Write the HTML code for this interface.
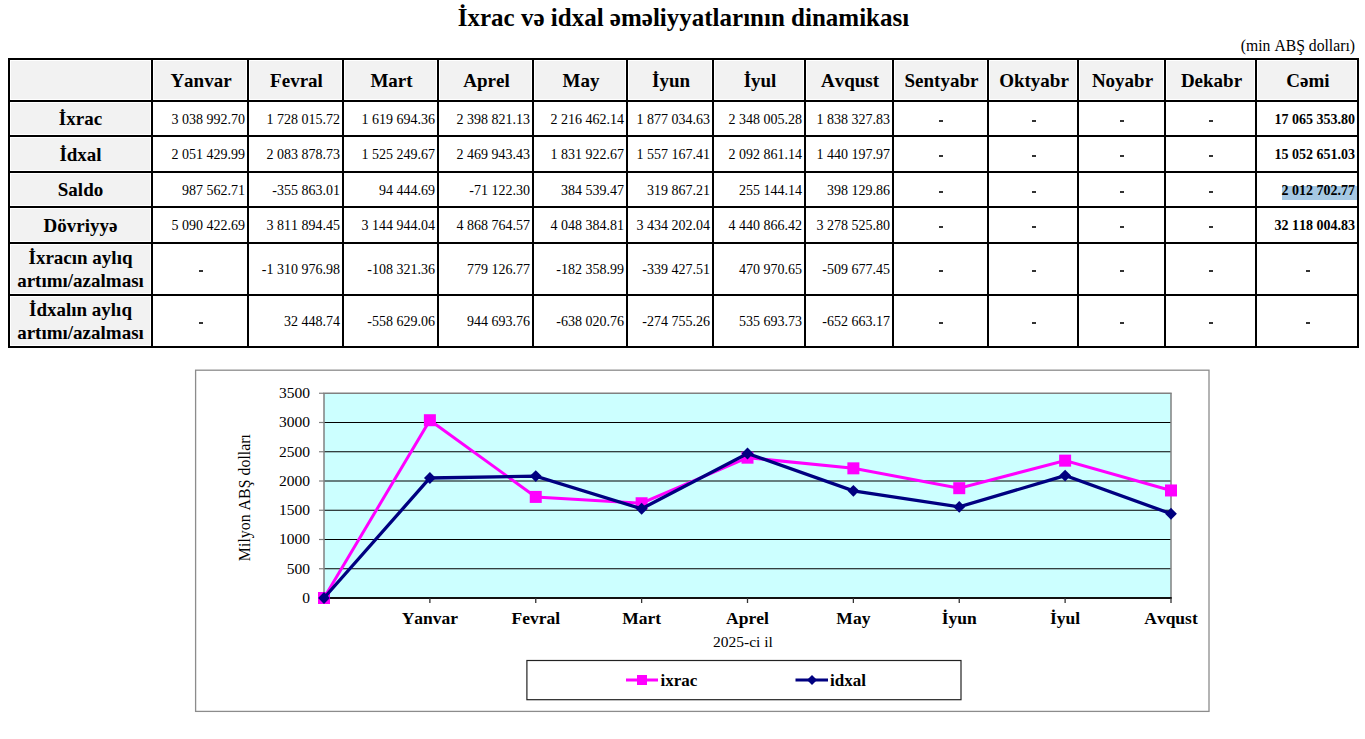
<!DOCTYPE html>
<html><head><meta charset="utf-8"><style>
html,body{margin:0;padding:0;background:#fff;}
body{width:1365px;height:739px;overflow:hidden;position:relative;font-family:"Liberation Serif",serif;color:#000;font-kerning:none;}
svg text{font-kerning:none;}
.a{position:absolute;}
.g{position:absolute;background:#f2f2f2;}
.v{position:absolute;background:#000;width:2px;top:58px;height:290px;}
.h{position:absolute;background:#000;height:2px;left:8px;width:1351px;}
.c{position:absolute;display:flex;align-items:center;justify-content:center;text-align:center;white-space:nowrap;}
.hd{font-weight:bold;font-size:19px;line-height:23px;}
.d{font-size:14px;line-height:16px;}
.r{justify-content:flex-end;}
.b{font-weight:bold;}
.sel{position:absolute;background:#a6c8e3;left:1282px;top:186px;width:75px;height:14px;}
.dash{position:absolute;width:4px;height:2px;background:#333;}
</style></head><body>
<div class="a" id="title" style="left:1px;width:1365px;top:3px;text-align:center;font-weight:bold;font-size:25px;line-height:29px;">İxrac və idxal əməliyyatlarının dinamikası</div>
<div class="a" id="unit" style="right:10px;top:37px;font-size:15.7px;line-height:18px;white-space:nowrap;">(min ABŞ dolları)</div>

<div class="g" style="left:11px;top:61px;width:139px;height:38px"></div>
<div class="g" style="left:154px;top:61px;width:92px;height:38px"></div>
<div class="g" style="left:250px;top:61px;width:91px;height:38px"></div>
<div class="g" style="left:345px;top:61px;width:91px;height:38px"></div>
<div class="g" style="left:440px;top:61px;width:91px;height:38px"></div>
<div class="g" style="left:535px;top:61px;width:90px;height:38px"></div>
<div class="g" style="left:629px;top:61px;width:82px;height:38px"></div>
<div class="g" style="left:715px;top:61px;width:88px;height:38px"></div>
<div class="g" style="left:807px;top:61px;width:84px;height:38px"></div>
<div class="g" style="left:895px;top:61px;width:91px;height:38px"></div>
<div class="g" style="left:990px;top:61px;width:86px;height:38px"></div>
<div class="g" style="left:1080px;top:61px;width:83px;height:38px"></div>
<div class="g" style="left:1167px;top:61px;width:87px;height:38px"></div>
<div class="g" style="left:1258px;top:61px;width:98px;height:38px"></div>
<div class="g" style="left:11px;top:103px;width:139px;height:31px"></div>
<div class="g" style="left:11px;top:138px;width:139px;height:32px"></div>
<div class="g" style="left:11px;top:174px;width:139px;height:31px"></div>
<div class="g" style="left:11px;top:209px;width:139px;height:32px"></div>
<div class="g" style="left:11px;top:245px;width:139px;height:48px"></div>
<div class="g" style="left:11px;top:297px;width:139px;height:48px"></div>
<div class="v" style="left:8px"></div>
<div class="v" style="left:151px"></div>
<div class="v" style="left:247px"></div>
<div class="v" style="left:342px"></div>
<div class="v" style="left:437px"></div>
<div class="v" style="left:532px"></div>
<div class="v" style="left:626px"></div>
<div class="v" style="left:712px"></div>
<div class="v" style="left:804px"></div>
<div class="v" style="left:892px"></div>
<div class="v" style="left:987px"></div>
<div class="v" style="left:1077px"></div>
<div class="v" style="left:1164px"></div>
<div class="v" style="left:1255px"></div>
<div class="v" style="left:1357px"></div>
<div class="h" style="top:58px"></div>
<div class="h" style="top:100px"></div>
<div class="h" style="top:135px"></div>
<div class="h" style="top:171px"></div>
<div class="h" style="top:206px"></div>
<div class="h" style="top:242px"></div>
<div class="h" style="top:294px"></div>
<div class="h" style="top:346px"></div>
<div class="c hd" style="left:153px;top:60px;width:94px;height:40px;padding-top:0px;padding-left:2px;box-sizing:border-box">Yanvar</div>
<div class="c hd" style="left:249px;top:60px;width:93px;height:40px;padding-top:0px;padding-left:2px;box-sizing:border-box">Fevral</div>
<div class="c hd" style="left:344px;top:60px;width:93px;height:40px;padding-top:0px;padding-left:2px;box-sizing:border-box">Mart</div>
<div class="c hd" style="left:439px;top:60px;width:93px;height:40px;padding-top:0px;padding-left:2px;box-sizing:border-box">Aprel</div>
<div class="c hd" style="left:534px;top:60px;width:92px;height:40px;padding-top:0px;padding-left:2px;box-sizing:border-box">May</div>
<div class="c hd" style="left:628px;top:60px;width:84px;height:40px;padding-top:0px;padding-left:2px;box-sizing:border-box">İyun</div>
<div class="c hd" style="left:714px;top:60px;width:90px;height:40px;padding-top:0px;padding-left:2px;box-sizing:border-box">İyul</div>
<div class="c hd" style="left:806px;top:60px;width:86px;height:40px;padding-top:0px;padding-left:2px;box-sizing:border-box">Avqust</div>
<div class="c hd" style="left:894px;top:60px;width:93px;height:40px;padding-top:0px;padding-left:2px;box-sizing:border-box">Sentyabr</div>
<div class="c hd" style="left:989px;top:60px;width:88px;height:40px;padding-top:0px;padding-left:2px;box-sizing:border-box">Oktyabr</div>
<div class="c hd" style="left:1079px;top:60px;width:85px;height:40px;padding-top:0px;padding-left:2px;box-sizing:border-box">Noyabr</div>
<div class="c hd" style="left:1166px;top:60px;width:89px;height:40px;padding-top:0px;padding-left:2px;box-sizing:border-box">Dekabr</div>
<div class="c hd" style="left:1257px;top:60px;width:100px;height:40px;padding-top:0px;padding-left:2px;box-sizing:border-box">Cəmi</div>
<div class="c hd" style="left:10px;top:102px;width:141px;height:33px;padding-top:0px;box-sizing:border-box">İxrac</div>
<div class="c d r" style="left:153px;top:102px;width:94px;height:33px;padding-right:2px;padding-top:2px;box-sizing:border-box">3 038 992.70</div>
<div class="c d r" style="left:249px;top:102px;width:93px;height:33px;padding-right:2px;padding-top:2px;box-sizing:border-box">1 728 015.72</div>
<div class="c d r" style="left:344px;top:102px;width:93px;height:33px;padding-right:2px;padding-top:2px;box-sizing:border-box">1 619 694.36</div>
<div class="c d r" style="left:439px;top:102px;width:93px;height:33px;padding-right:2px;padding-top:2px;box-sizing:border-box">2 398 821.13</div>
<div class="c d r" style="left:534px;top:102px;width:92px;height:33px;padding-right:2px;padding-top:2px;box-sizing:border-box">2 216 462.14</div>
<div class="c d r" style="left:628px;top:102px;width:84px;height:33px;padding-right:2px;padding-top:2px;box-sizing:border-box">1 877 034.63</div>
<div class="c d r" style="left:714px;top:102px;width:90px;height:33px;padding-right:2px;padding-top:2px;box-sizing:border-box">2 348 005.28</div>
<div class="c d r" style="left:806px;top:102px;width:86px;height:33px;padding-right:2px;padding-top:2px;box-sizing:border-box">1 838 327.83</div>
<div class="dash" style="left:939px;top:120px"></div>
<div class="dash" style="left:1032px;top:120px"></div>
<div class="dash" style="left:1120px;top:120px"></div>
<div class="dash" style="left:1209px;top:120px"></div>
<div class="c d r b" style="left:1257px;top:102px;width:100px;height:33px;padding-right:2px;padding-top:2px;box-sizing:border-box">17 065 353.80</div>
<div class="c hd" style="left:10px;top:137px;width:141px;height:34px;padding-top:0px;box-sizing:border-box">İdxal</div>
<div class="c d r" style="left:153px;top:137px;width:94px;height:34px;padding-right:2px;padding-top:2px;box-sizing:border-box">2 051 429.99</div>
<div class="c d r" style="left:249px;top:137px;width:93px;height:34px;padding-right:2px;padding-top:2px;box-sizing:border-box">2 083 878.73</div>
<div class="c d r" style="left:344px;top:137px;width:93px;height:34px;padding-right:2px;padding-top:2px;box-sizing:border-box">1 525 249.67</div>
<div class="c d r" style="left:439px;top:137px;width:93px;height:34px;padding-right:2px;padding-top:2px;box-sizing:border-box">2 469 943.43</div>
<div class="c d r" style="left:534px;top:137px;width:92px;height:34px;padding-right:2px;padding-top:2px;box-sizing:border-box">1 831 922.67</div>
<div class="c d r" style="left:628px;top:137px;width:84px;height:34px;padding-right:2px;padding-top:2px;box-sizing:border-box">1 557 167.41</div>
<div class="c d r" style="left:714px;top:137px;width:90px;height:34px;padding-right:2px;padding-top:2px;box-sizing:border-box">2 092 861.14</div>
<div class="c d r" style="left:806px;top:137px;width:86px;height:34px;padding-right:2px;padding-top:2px;box-sizing:border-box">1 440 197.97</div>
<div class="dash" style="left:939px;top:155px"></div>
<div class="dash" style="left:1032px;top:155px"></div>
<div class="dash" style="left:1120px;top:155px"></div>
<div class="dash" style="left:1209px;top:155px"></div>
<div class="c d r b" style="left:1257px;top:137px;width:100px;height:34px;padding-right:2px;padding-top:2px;box-sizing:border-box">15 052 651.03</div>
<div class="c hd" style="left:10px;top:173px;width:141px;height:33px;padding-top:0px;box-sizing:border-box">Saldo</div>
<div class="c d r" style="left:153px;top:173px;width:94px;height:33px;padding-right:2px;padding-top:2px;box-sizing:border-box">987 562.71</div>
<div class="c d r" style="left:249px;top:173px;width:93px;height:33px;padding-right:2px;padding-top:2px;box-sizing:border-box">-355 863.01</div>
<div class="c d r" style="left:344px;top:173px;width:93px;height:33px;padding-right:2px;padding-top:2px;box-sizing:border-box">94 444.69</div>
<div class="c d r" style="left:439px;top:173px;width:93px;height:33px;padding-right:2px;padding-top:2px;box-sizing:border-box">-71 122.30</div>
<div class="c d r" style="left:534px;top:173px;width:92px;height:33px;padding-right:2px;padding-top:2px;box-sizing:border-box">384 539.47</div>
<div class="c d r" style="left:628px;top:173px;width:84px;height:33px;padding-right:2px;padding-top:2px;box-sizing:border-box">319 867.21</div>
<div class="c d r" style="left:714px;top:173px;width:90px;height:33px;padding-right:2px;padding-top:2px;box-sizing:border-box">255 144.14</div>
<div class="c d r" style="left:806px;top:173px;width:86px;height:33px;padding-right:2px;padding-top:2px;box-sizing:border-box">398 129.86</div>
<div class="dash" style="left:939px;top:191px"></div>
<div class="dash" style="left:1032px;top:191px"></div>
<div class="dash" style="left:1120px;top:191px"></div>
<div class="dash" style="left:1209px;top:191px"></div>
<div class="sel"></div>
<div class="c d r b" style="left:1257px;top:173px;width:100px;height:33px;padding-right:2px;padding-top:2px;box-sizing:border-box">2 012 702.77</div>
<div class="c hd" style="left:10px;top:208px;width:141px;height:34px;padding-top:0px;box-sizing:border-box">Dövriyyə</div>
<div class="c d r" style="left:153px;top:208px;width:94px;height:34px;padding-right:2px;padding-top:2px;box-sizing:border-box">5 090 422.69</div>
<div class="c d r" style="left:249px;top:208px;width:93px;height:34px;padding-right:2px;padding-top:2px;box-sizing:border-box">3 811 894.45</div>
<div class="c d r" style="left:344px;top:208px;width:93px;height:34px;padding-right:2px;padding-top:2px;box-sizing:border-box">3 144 944.04</div>
<div class="c d r" style="left:439px;top:208px;width:93px;height:34px;padding-right:2px;padding-top:2px;box-sizing:border-box">4 868 764.57</div>
<div class="c d r" style="left:534px;top:208px;width:92px;height:34px;padding-right:2px;padding-top:2px;box-sizing:border-box">4 048 384.81</div>
<div class="c d r" style="left:628px;top:208px;width:84px;height:34px;padding-right:2px;padding-top:2px;box-sizing:border-box">3 434 202.04</div>
<div class="c d r" style="left:714px;top:208px;width:90px;height:34px;padding-right:2px;padding-top:2px;box-sizing:border-box">4 440 866.42</div>
<div class="c d r" style="left:806px;top:208px;width:86px;height:34px;padding-right:2px;padding-top:2px;box-sizing:border-box">3 278 525.80</div>
<div class="dash" style="left:939px;top:226px"></div>
<div class="dash" style="left:1032px;top:226px"></div>
<div class="dash" style="left:1120px;top:226px"></div>
<div class="dash" style="left:1209px;top:226px"></div>
<div class="c d r b" style="left:1257px;top:208px;width:100px;height:34px;padding-right:2px;padding-top:2px;box-sizing:border-box">32 118 004.83</div>
<div class="c hd" style="left:10px;top:244px;width:141px;height:50px;padding-top:0px;box-sizing:border-box">İxracın aylıq<br>artımı/azalması</div>
<div class="dash" style="left:199px;top:270px"></div>
<div class="c d r" style="left:249px;top:244px;width:93px;height:50px;padding-right:2px;padding-top:2px;box-sizing:border-box">-1 310 976.98</div>
<div class="c d r" style="left:344px;top:244px;width:93px;height:50px;padding-right:2px;padding-top:2px;box-sizing:border-box">-108 321.36</div>
<div class="c d r" style="left:439px;top:244px;width:93px;height:50px;padding-right:2px;padding-top:2px;box-sizing:border-box">779 126.77</div>
<div class="c d r" style="left:534px;top:244px;width:92px;height:50px;padding-right:2px;padding-top:2px;box-sizing:border-box">-182 358.99</div>
<div class="c d r" style="left:628px;top:244px;width:84px;height:50px;padding-right:2px;padding-top:2px;box-sizing:border-box">-339 427.51</div>
<div class="c d r" style="left:714px;top:244px;width:90px;height:50px;padding-right:2px;padding-top:2px;box-sizing:border-box">470 970.65</div>
<div class="c d r" style="left:806px;top:244px;width:86px;height:50px;padding-right:2px;padding-top:2px;box-sizing:border-box">-509 677.45</div>
<div class="dash" style="left:939px;top:270px"></div>
<div class="dash" style="left:1032px;top:270px"></div>
<div class="dash" style="left:1120px;top:270px"></div>
<div class="dash" style="left:1209px;top:270px"></div>
<div class="dash" style="left:1306px;top:270px"></div>
<div class="c hd" style="left:10px;top:296px;width:141px;height:50px;padding-top:0px;box-sizing:border-box">İdxalın aylıq<br>artımı/azalması</div>
<div class="dash" style="left:199px;top:322px"></div>
<div class="c d r" style="left:249px;top:296px;width:93px;height:50px;padding-right:2px;padding-top:2px;box-sizing:border-box">32 448.74</div>
<div class="c d r" style="left:344px;top:296px;width:93px;height:50px;padding-right:2px;padding-top:2px;box-sizing:border-box">-558 629.06</div>
<div class="c d r" style="left:439px;top:296px;width:93px;height:50px;padding-right:2px;padding-top:2px;box-sizing:border-box">944 693.76</div>
<div class="c d r" style="left:534px;top:296px;width:92px;height:50px;padding-right:2px;padding-top:2px;box-sizing:border-box">-638 020.76</div>
<div class="c d r" style="left:628px;top:296px;width:84px;height:50px;padding-right:2px;padding-top:2px;box-sizing:border-box">-274 755.26</div>
<div class="c d r" style="left:714px;top:296px;width:90px;height:50px;padding-right:2px;padding-top:2px;box-sizing:border-box">535 693.73</div>
<div class="c d r" style="left:806px;top:296px;width:86px;height:50px;padding-right:2px;padding-top:2px;box-sizing:border-box">-652 663.17</div>
<div class="dash" style="left:939px;top:322px"></div>
<div class="dash" style="left:1032px;top:322px"></div>
<div class="dash" style="left:1120px;top:322px"></div>
<div class="dash" style="left:1209px;top:322px"></div>
<div class="dash" style="left:1306px;top:322px"></div>
<svg class="a" style="left:0;top:0" width="1365" height="739" viewBox="0 0 1365 739">
<rect x="195.6" y="370.2" width="1013.4" height="341.2" fill="#fff" stroke="#8c8c8c" stroke-width="1.3"/>
<rect x="324" y="393.25" width="847" height="204.75" fill="#ccffff"/>
<line x1="324" y1="568.75" x2="1171" y2="568.75" stroke="#000" stroke-width="1.2"/>
<line x1="324" y1="539.50" x2="1171" y2="539.50" stroke="#000" stroke-width="1.2"/>
<line x1="324" y1="510.25" x2="1171" y2="510.25" stroke="#000" stroke-width="1.2"/>
<line x1="324" y1="481.00" x2="1171" y2="481.00" stroke="#000" stroke-width="1.2"/>
<line x1="324" y1="451.75" x2="1171" y2="451.75" stroke="#000" stroke-width="1.2"/>
<line x1="324" y1="422.50" x2="1171" y2="422.50" stroke="#000" stroke-width="1.2"/>
<line x1="323.3" y1="393.25" x2="1171.7" y2="393.25" stroke="#808080" stroke-width="1.3"/>
<line x1="324" y1="393.25" x2="324" y2="598" stroke="#808080" stroke-width="1.5"/>
<line x1="1171" y1="393.25" x2="1171" y2="598" stroke="#808080" stroke-width="1.5"/>
<line x1="319" y1="598.00" x2="324" y2="598.00" stroke="#808080" stroke-width="1.2"/>
<text x="310" y="602.85" font-family="Liberation Serif" font-size="15.5" text-anchor="end">0</text>
<line x1="319" y1="568.75" x2="324" y2="568.75" stroke="#808080" stroke-width="1.2"/>
<text x="310" y="573.60" font-family="Liberation Serif" font-size="15.5" text-anchor="end">500</text>
<line x1="319" y1="539.50" x2="324" y2="539.50" stroke="#808080" stroke-width="1.2"/>
<text x="310" y="544.35" font-family="Liberation Serif" font-size="15.5" text-anchor="end">1000</text>
<line x1="319" y1="510.25" x2="324" y2="510.25" stroke="#808080" stroke-width="1.2"/>
<text x="310" y="515.10" font-family="Liberation Serif" font-size="15.5" text-anchor="end">1500</text>
<line x1="319" y1="481.00" x2="324" y2="481.00" stroke="#808080" stroke-width="1.2"/>
<text x="310" y="485.85" font-family="Liberation Serif" font-size="15.5" text-anchor="end">2000</text>
<line x1="319" y1="451.75" x2="324" y2="451.75" stroke="#808080" stroke-width="1.2"/>
<text x="310" y="456.60" font-family="Liberation Serif" font-size="15.5" text-anchor="end">2500</text>
<line x1="319" y1="422.50" x2="324" y2="422.50" stroke="#808080" stroke-width="1.2"/>
<text x="310" y="427.35" font-family="Liberation Serif" font-size="15.5" text-anchor="end">3000</text>
<line x1="319" y1="393.25" x2="324" y2="393.25" stroke="#808080" stroke-width="1.2"/>
<text x="310" y="398.10" font-family="Liberation Serif" font-size="15.5" text-anchor="end">3500</text>
<line x1="323.3" y1="598" x2="1171.7" y2="598" stroke="#111" stroke-width="2"/>
<line x1="429.88" y1="598" x2="429.88" y2="603" stroke="#333" stroke-width="1.3"/>
<text x="429.88" y="623.8" font-family="Liberation Serif" font-size="17.5" font-weight="bold" text-anchor="middle">Yanvar</text>
<line x1="535.75" y1="598" x2="535.75" y2="603" stroke="#333" stroke-width="1.3"/>
<text x="535.75" y="623.8" font-family="Liberation Serif" font-size="17.5" font-weight="bold" text-anchor="middle">Fevral</text>
<line x1="641.62" y1="598" x2="641.62" y2="603" stroke="#333" stroke-width="1.3"/>
<text x="641.62" y="623.8" font-family="Liberation Serif" font-size="17.5" font-weight="bold" text-anchor="middle">Mart</text>
<line x1="747.50" y1="598" x2="747.50" y2="603" stroke="#333" stroke-width="1.3"/>
<text x="747.50" y="623.8" font-family="Liberation Serif" font-size="17.5" font-weight="bold" text-anchor="middle">Aprel</text>
<line x1="853.38" y1="598" x2="853.38" y2="603" stroke="#333" stroke-width="1.3"/>
<text x="853.38" y="623.8" font-family="Liberation Serif" font-size="17.5" font-weight="bold" text-anchor="middle">May</text>
<line x1="959.25" y1="598" x2="959.25" y2="603" stroke="#333" stroke-width="1.3"/>
<text x="959.25" y="623.8" font-family="Liberation Serif" font-size="17.5" font-weight="bold" text-anchor="middle">İyun</text>
<line x1="1065.12" y1="598" x2="1065.12" y2="603" stroke="#333" stroke-width="1.3"/>
<text x="1065.12" y="623.8" font-family="Liberation Serif" font-size="17.5" font-weight="bold" text-anchor="middle">İyul</text>
<line x1="1171.00" y1="598" x2="1171.00" y2="603" stroke="#333" stroke-width="1.3"/>
<text x="1171.00" y="623.8" font-family="Liberation Serif" font-size="17.5" font-weight="bold" text-anchor="middle">Avqust</text>
<text x="743" y="647" font-family="Liberation Serif" font-size="15.5" text-anchor="middle">2025-ci il</text>
<text transform="translate(249.8 497.6) rotate(-90)" font-family="Liberation Serif" font-size="15.9" text-anchor="middle">Milyon ABŞ dolları</text>
<polyline points="324.00,598.00 429.88,420.22 535.75,496.91 641.62,503.25 747.50,457.67 853.38,468.34 959.25,488.19 1065.12,460.64 1171.00,490.46" fill="none" stroke="#ff00ff" stroke-width="3" stroke-linejoin="miter"/>
<rect x="318.00" y="592.00" width="12" height="12" fill="#ff00ff"/>
<rect x="423.88" y="414.22" width="12" height="12" fill="#ff00ff"/>
<rect x="529.75" y="490.91" width="12" height="12" fill="#ff00ff"/>
<rect x="635.62" y="497.25" width="12" height="12" fill="#ff00ff"/>
<rect x="741.50" y="451.67" width="12" height="12" fill="#ff00ff"/>
<rect x="847.38" y="462.34" width="12" height="12" fill="#ff00ff"/>
<rect x="953.25" y="482.19" width="12" height="12" fill="#ff00ff"/>
<rect x="1059.12" y="454.64" width="12" height="12" fill="#ff00ff"/>
<rect x="1165.00" y="484.46" width="12" height="12" fill="#ff00ff"/>
<polyline points="324.00,598.00 429.88,477.99 535.75,476.09 641.62,508.77 747.50,453.51 853.38,490.83 959.25,506.91 1065.12,475.57 1171.00,513.75" fill="none" stroke="#000080" stroke-width="3.3" stroke-linejoin="miter"/>
<polygon points="324.00,592.10 329.90,598.00 324.00,603.90 318.10,598.00" fill="#000080"/>
<polygon points="429.88,472.09 435.77,477.99 429.88,483.89 423.98,477.99" fill="#000080"/>
<polygon points="535.75,470.19 541.65,476.09 535.75,481.99 529.85,476.09" fill="#000080"/>
<polygon points="641.62,502.87 647.52,508.77 641.62,514.67 635.73,508.77" fill="#000080"/>
<polygon points="747.50,447.61 753.40,453.51 747.50,459.41 741.60,453.51" fill="#000080"/>
<polygon points="853.38,484.93 859.27,490.83 853.38,496.73 847.48,490.83" fill="#000080"/>
<polygon points="959.25,501.01 965.15,506.91 959.25,512.81 953.35,506.91" fill="#000080"/>
<polygon points="1065.12,469.67 1071.03,475.57 1065.12,481.47 1059.22,475.57" fill="#000080"/>
<polygon points="1171.00,507.85 1176.90,513.75 1171.00,519.65 1165.10,513.75" fill="#000080"/>
<rect x="526.9" y="660.5" width="434.1" height="39.2" fill="#fff" stroke="#222" stroke-width="1.2"/>
<line x1="626" y1="680" x2="658" y2="680" stroke="#ff00ff" stroke-width="3"/>
<rect x="637" y="675" width="10" height="10" fill="#ff00ff"/>
<text x="660.5" y="686" font-family="Liberation Serif" font-size="17" font-weight="bold">ixrac</text>
<line x1="795.5" y1="680" x2="828" y2="680" stroke="#000080" stroke-width="3"/>
<polygon points="812,675 817,680 812,685 807,680" fill="#000080"/>
<text x="830" y="686" font-family="Liberation Serif" font-size="17" font-weight="bold">idxal</text>
</svg>
</body></html>
